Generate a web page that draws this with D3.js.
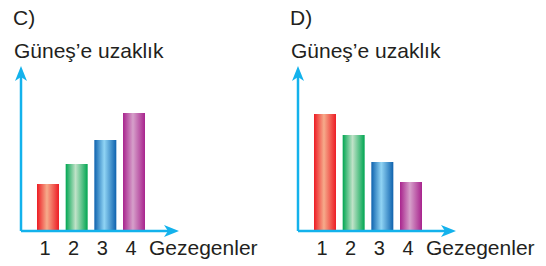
<!DOCTYPE html>
<html>
<head>
<meta charset="utf-8">
<script src="https://cdn.jsdelivr.net/npm/d3@7"></script>
<style>
  html, body { margin: 0; padding: 0; background: #fff; }
  svg { display: block; }
  text { font-family: "Liberation Sans", Arial, Helvetica, sans-serif; fill: #231f20; }
</style>
</head>
<body>
<div id="chart"></div>
<script>
var planets = ['1', '2', '3', '4'];
var distanceC = [47, 67, 91, 118];
var distanceD = [117, 96, 69, 49];
var panelNames = ['C)', 'D)'];
var yTitle = 'Güneş’e uzaklık';
var xTitle = 'Gezegenler';

// edge colour, centre highlight
var barColors = [
  ['#ed1c24', '#f6ab8b'],
  ['#00a651', '#c0e2c8'],
  ['#0e62ae', '#90d4f4'],
  ['#a8238d', '#d6a0ca']
];

var axisColor = '#13b2ec';
var width = 546, height = 266;

var svg = d3.select('#chart').append('svg')
  .attr('width', width)
  .attr('height', height);

var defs = svg.append('defs');

barColors.forEach(function(c, i) {
  var g = defs.append('linearGradient')
    .attr('id', 'bar-grad-' + i)
    .attr('x1', '0%').attr('x2', '100%')
    .attr('y1', '0%').attr('y2', '0%');
  g.append('stop').attr('offset', '0%').style('stop-color', c[0]);
  g.append('stop').attr('offset', '45%').style('stop-color', c[1]);
  g.append('stop').attr('offset', '100%').style('stop-color', c[0]);
});

function drawPanel(left, name, values) {
  var g = svg.append('g').attr('transform', 'translate(' + left + ',0)');

  var baseY = 231;
  var y = d3.scaleLinear().domain([0, 160]).range([baseY, baseY - 160]);
  var x = d3.scaleBand().domain(planets)
    .range([16, 124])
    .paddingInner(0.233)
    .paddingOuter(0);

  g.append('text')
    .attr('x', -8).attr('y', 25)
    .style('font-size', '21px')
    .text(name);

  g.append('text')
    .attr('x', -7).attr('y', 58)
    .style('font-size', '21px')
    .text(yTitle);

  g.selectAll('rect.bar')
    .data(values)
    .enter().append('rect')
      .attr('class', 'bar')
      .attr('x', function(d, i) { return x(planets[i]); })
      .attr('y', function(d) { return y(d); })
      .attr('width', x.bandwidth())
      .attr('height', function(d) { return baseY - y(d); })
      .style('fill', function(d, i) { return 'url(#bar-grad-' + i + ')'; });

  // axes
  g.append('line')
    .attr('x1', 0).attr('y1', baseY)
    .attr('x2', 0).attr('y2', 76)
    .style('stroke', axisColor).style('stroke-width', 2.5);
  g.append('line')
    .attr('x1', 0).attr('y1', baseY)
    .attr('x2', 150).attr('y2', baseY)
    .style('stroke', axisColor).style('stroke-width', 2.5);

  // arrow heads
  g.append('path')
    .attr('d', 'M0,66 L6,81 L0,77 L-6,81 Z')
    .style('fill', axisColor);
  g.append('path')
    .attr('d', 'M158,' + baseY + ' L143,' + (baseY - 6) + ' L147,' + baseY +
      ' L143,' + (baseY + 6) + ' Z')
    .style('fill', axisColor);

  g.selectAll('text.tick')
    .data(planets)
    .enter().append('text')
      .attr('class', 'tick')
      .attr('x', function(d) { return x(d) + x.bandwidth() / 2 - 3; })
      .attr('y', 255)
      .attr('text-anchor', 'middle')
      .style('font-size', '20px')
      .text(function(d) { return d; });

  g.append('text')
    .attr('x', 128).attr('y', 255)
    .style('font-size', '21px')
    .text(xTitle);
}

drawPanel(21, panelNames[0], distanceC);
drawPanel(298, panelNames[1], distanceD);
</script>
</body>
</html>
